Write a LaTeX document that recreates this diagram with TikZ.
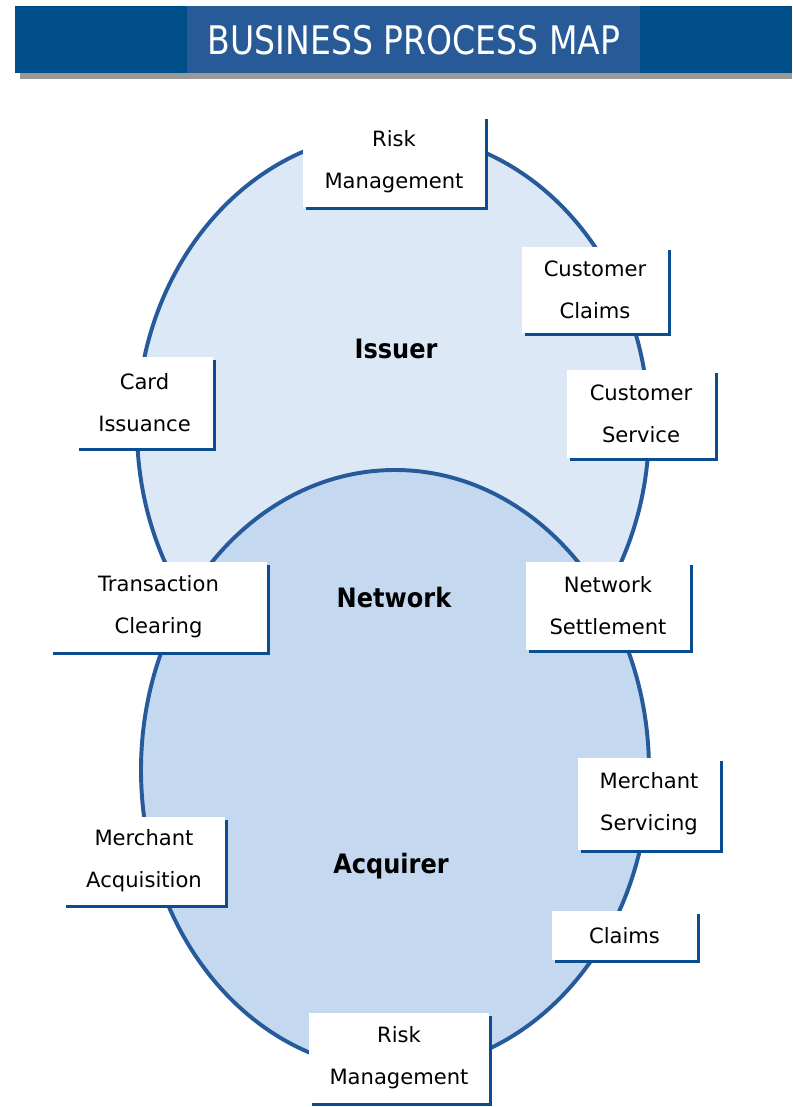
\documentclass[tikz,border=0pt]{standalone}
\usepackage{fontspec}
\setmainfont{DejaVu Sans}
\newfontfamily\boxfont{DejaVu Sans}
\newfontfamily\labelfont[FakeStretch=0.9]{DejaVu Sans}
\newfontfamily\titlefont[FakeStretch=0.84]{DejaVu Sans}
\usetikzlibrary{shadows}

\definecolor{headblue}{RGB}{0,78,137}
\definecolor{panelblue}{RGB}{39,90,150}
\definecolor{rimblue}{RGB}{38,90,155}
\definecolor{issuerfill}{RGB}{221,232,246}
\definecolor{acquirerfill}{RGB}{196,217,240}
\definecolor{tabblue}{RGB}{10,78,143}

\begin{document}
\begin{tikzpicture}[x=0.025cm, y=-0.025cm,
    procbox/.style={rectangle, fill=white, align=center, inner sep=0pt,
      font=\boxfont\fontsize{15pt}{30pt}\selectfont,
      drop shadow={fill=tabblue, opacity=1, shadow xshift=2.2pt, shadow yshift=-2.2pt}},
    regionlabel/.style={font=\labelfont\bfseries\fontsize{19pt}{24pt}\selectfont}]

    \useasboundingbox (0,0) rectangle (792,1107);

    % === Header bar ===
    \fill[black!40] (20,73) rectangle (792,79);
    \fill[headblue] (15,6) rectangle (792,73);
    \fill[panelblue] (187,6) rectangle (640,73);
    \node[text=white, font=\titlefont\fontsize{28pt}{30pt}\selectfont] (title) at (414,40) {BUSINESS PROCESS MAP};

    % === Issuer and Acquirer ovals ===
    \coordinate (issuerc) at (393,428);
    \coordinate (acquirerc) at (395,770);
    \draw[rimblue, line width=2.8pt, fill=issuerfill] (issuerc) ellipse [x radius=256, y radius=295];
    \draw[rimblue, line width=2.8pt, fill=acquirerfill] (acquirerc) ellipse [x radius=254, y radius=300];

    % Labels
    \node[regionlabel] (issuer) at (396,349) {Issuer};
    \node[regionlabel] (network) at (394,598) {Network};
    \node[regionlabel] (acquirer) at (391,866) {Acquirer};

    % === Process boxes ===
    \node[procbox, minimum width=4.55cm, minimum height=2.275cm] (risktop) at (394,161.5) {Risk\\Management};
    \node[procbox, minimum width=3.65cm, minimum height=2.15cm] (custclaims) at (595,290) {Customer\\Claims};
    \node[procbox, minimum width=3.7cm, minimum height=2.2cm] (custservice) at (641,414) {Customer\\Service};
    \node[procbox, minimum width=3.425cm, minimum height=2.275cm] (cardissue) at (144.5,402.5) {Card\\Issuance};
    \node[procbox, minimum width=5.425cm, minimum height=2.25cm] (clearing) at (158.5,607) {Transaction\\Clearing};
    \node[procbox, minimum width=4.1cm, minimum height=2.2cm] (settlement) at (608,606) {Network\\Settlement};
    \node[procbox, minimum width=3.55cm, minimum height=2.3cm] (servicing) at (649,804) {Merchant\\Servicing};
    \node[procbox, minimum width=4.05cm, minimum height=2.2cm] (acquisition) at (144,861) {Merchant\\Acquisition};
    \node[procbox, minimum width=3.625cm, minimum height=1.225cm] (claims) at (624.5,935.5) {Claims};
    \node[procbox, minimum width=4.5cm, minimum height=2.25cm] (riskbot) at (399,1058) {Risk\\Management};

\end{tikzpicture}
\end{document}
